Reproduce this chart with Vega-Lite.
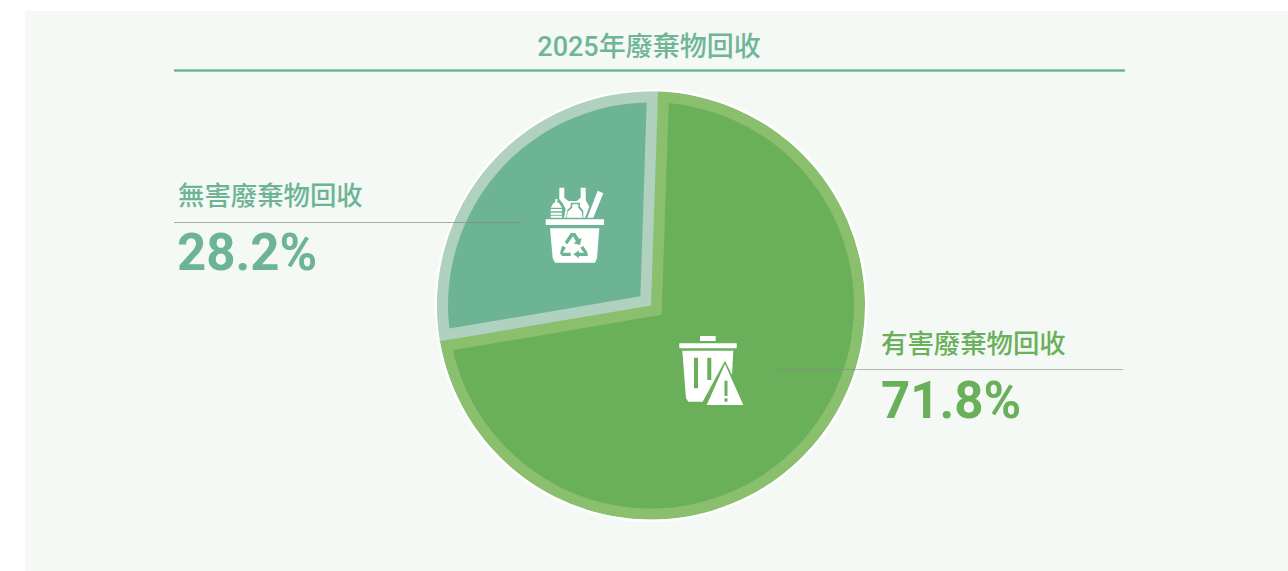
{
"$schema":"https://vega.github.io/schema/vega-lite/v6.json",
"width":1263,"height":560,
"autosize":{"type":"none"},
"padding":{"left":25,"top":11,"right":0,"bottom":0},
"background":"#ffffff",
"view":{"fill":"#f4f9f6","stroke":null},
"config":{"axis":{"disable":true},"legend":{"disable":true},"text":{"font":"Roboto, Noto Sans CJK TC"}},
"data":{"values":[{"name":"有害廢棄物回收","value":0.718},{"name":"無害廢棄物回收","value":0.282}]},
"transform":[{"stack":"value","groupby":[],"sort":[{"field":"value","order":"descending"}],"as":["v0","v1"]}],
"encoding":{
"x":{"datum":651,"type":"quantitative","scale":{"domain":[25,1288],"range":[0,1263]}},
"y":{"datum":305.5,"type":"quantitative","scale":{"domain":[11,571],"range":[0,560]}},
"theta":{"field":"v0","type":"quantitative","scale":{"domain":[0,1],"range":[0.033,6.3162]}},
"theta2":{"field":"v1"}
},
"layer":[
{"transform":[{"filter":"datum.value>0.5"}],"mark":{"type":"arc","radius":214,"fill":"#6ab05a"}},
{"transform":[{"filter":"datum.value<0.5"}],"mark":{"type":"arc","radius":205,"fill":"#8abf6d","stroke":"#8abf6d","strokeWidth":22,"strokeJoin":"miter","strokeMiterLimit":10}},
{"transform":[{"filter":"datum.value<0.5"}],"mark":{"type":"arc","radius":214,"fill":"#b0d1c0"}},
{"transform":[{"filter":"datum.value<0.5"}],"mark":{"type":"arc","radius":203,"radius2":14.1,"padAngle":0.1082,"fill":"#6db495"}},
{"transform":[{"filter":"datum.value>0.5"}],"mark":{"type":"arc","radius":214,"radius2":203,"fill":"#8abf6d"}},
{"mark":{"type":"arc","radius":216.5,"radius2":214,"fill":"#ffffff"}},
{"transform":[{"filter":"datum.value>0.5"}],
 "mark":{"type":"point","filled":true,"fill":"#ffffff","opacity":1,"strokeWidth":0,"size":4,
 "shape":"M-8,-34H7.7V-29H-8ZM-28.7,-26.7H28.7V-21.7H-28.7ZM-25.7,-19.3H25.3L24,5L17,-9.3L-5.3,31.7H-19.7L-22,28.3ZM-14,-12.3V18.3H-10V-12.3ZM-0.7,-12.3V10H3.3V-12.3ZM17,-6L35.3,35H-1.3ZM16.5,10.7V26H19.5V10.7ZM16.5,28.3V31.7H19.5V28.3Z"},
 "encoding":{"x":{"datum":708},"y":{"datum":370},"theta":null,"theta2":null}},
{"transform":[{"filter":"datum.value<0.5"}],
 "mark":{"type":"point","filled":true,"fill":"#ffffff","opacity":1,"strokeWidth":0,"size":4,
 "shape":"M-23.3,-17.3L-20.7,-21.7L-18.7,-22.7V-26H-16.7V-22.7L-14.7,-21.7L-12,-17.3ZM-23.3,-16H-12V-13.7H-23.3ZM-23.3,-12.3H-12V-10.3H-23.3ZM-23.3,-9.3H-12V-7.3H-23.3ZM-14.7,-37.3H-9.7V-27.3L-5.7,-24H2.7L6.7,-27.3V-37.3H11.7V-25L15.3,-18.3L11,-7.3H9.3V-14.3L6,-18.3V-22.3H-3.3V-18.3L-6.7,-15L-8,-7.3H-10L-8.3,-15.7L-11.3,-21.7L-14.7,-26ZM-1.7,-20.7H4.3V-17.3L7.7,-13.3L8.7,-7.3H-7.3L-6.3,-13.3L-1.7,-17.3ZM23.7,-34.3L29.3,-31.7L19.3,-7.3H13.3ZM-28.3,-5.7H30V0H-28.3ZM-24,3.3H25.3L23,33.3L21,37.7H-19L-21.3,33.3ZM-9.3,17.3L-6.7,19.3L-1,11.3L2,16.7L-0.7,18.3L6,20L7.7,12.7L5.3,14.3L1.3,8H-3.3ZM-12,20.7L-14,28.3L-12,31H-3.3V27.7H-11.3L-8,22.7ZM9.3,21L6.3,22.7L10,27.7H5V25.3L-0.7,29.3L5,33.3V31H14L13.3,27.3Z"},
 "encoding":{"x":{"datum":574},"y":{"datum":225},"theta":null,"theta2":null}},
{"mark":{"type":"rule","stroke":"#888888","strokeWidth":1,"opacity":0.7},"transform":[{"filter":"datum.value<0.5"}],
 "encoding":{"x":{"datum":174},"x2":{"datum":521},"y":{"datum":222.5},"theta":null,"theta2":null}},
{"mark":{"type":"rule","stroke":"#888888","strokeWidth":1,"opacity":0.6},"transform":[{"filter":"datum.value>0.5"}],
 "encoding":{"x":{"datum":777},"x2":{"datum":1123},"y":{"datum":369.5},"theta":null,"theta2":null}},
{"mark":{"type":"rule","stroke":"#6fb596","strokeWidth":2.5},"transform":[{"filter":"datum.value>0.5"}],
 "encoding":{"x":{"datum":174},"x2":{"datum":1125},"y":{"datum":70.5},"theta":null,"theta2":null}},
{"data":{"values":[{"title":"2025年廢棄物回收"}]},
 "mark":{"type":"text","align":"center","baseline":"alphabetic","fontSize":27,"fontWeight":500,"fill":"#6fb596"},
 "encoding":{"text":{"field":"title"},"x":{"datum":649},"y":{"datum":56},"theta":null,"theta2":null}},
{"transform":[{"filter":"datum.value<0.5"}],
 "mark":{"type":"text","align":"left","baseline":"alphabetic","fontSize":26.4,"fontWeight":500,"fill":"#6db495"},
 "encoding":{"text":{"field":"name"},"x":{"datum":178},"y":{"datum":205},"theta":null,"theta2":null}},
{"transform":[{"filter":"datum.value>0.5"}],
 "mark":{"type":"text","align":"left","baseline":"alphabetic","fontSize":26.4,"fontWeight":500,"fill":"#6ab05a"},
 "encoding":{"text":{"field":"name"},"x":{"datum":881},"y":{"datum":353},"theta":null,"theta2":null}},
{"transform":[{"filter":"datum.value<0.5"}],
 "mark":{"type":"text","align":"left","baseline":"alphabetic","fontSize":51,"fontWeight":"bold","fill":"#6db495"},
 "encoding":{"text":{"field":"value","format":".1%"},"x":{"datum":177},"y":{"datum":270},"theta":null,"theta2":null}},
{"transform":[{"filter":"datum.value>0.5"}],
 "mark":{"type":"text","align":"left","baseline":"alphabetic","fontSize":51,"fontWeight":"bold","fill":"#6ab05a"},
 "encoding":{"text":{"field":"value","format":".1%"},"x":{"datum":881},"y":{"datum":418},"theta":null,"theta2":null}}
]
}
